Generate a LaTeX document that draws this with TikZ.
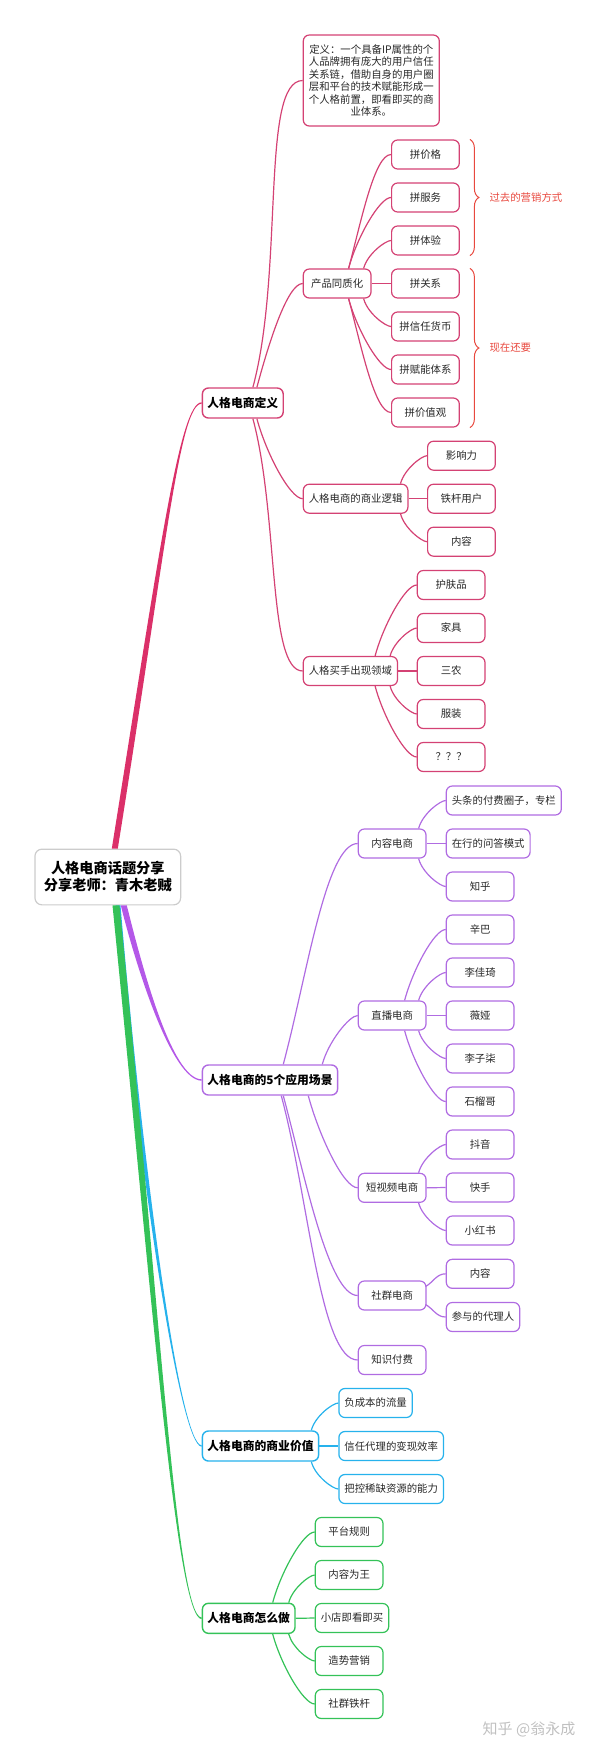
\documentclass[tikz,border=0pt]{standalone}
\usepackage{fontspec}
\setmainfont{Noto Sans CJK SC}
\usetikzlibrary{decorations.pathreplacing}
\definecolor{crim}{RGB}{219,48,105}
\definecolor{boxr}{RGB}{212,66,116}
\definecolor{purp}{RGB}{180,88,232}
\definecolor{boxp}{RGB}{176,108,226}
\definecolor{blu}{RGB}{38,178,236}
\definecolor{grn}{RGB}{52,194,88}
\definecolor{bracered}{RGB}{232,72,62}
\definecolor{rootline}{RGB}{204,204,204}
\definecolor{txt}{RGB}{40,40,40}
\definecolor{markgray}{RGB}{192,192,192}
\tikzstyle{rootbox}=[rectangle,draw=rootline,fill=white,line width=1.2pt,rounded corners=7pt,minimum width=145.7pt,minimum height=55.7pt,align=center,font=\fontsize{14.2}{17.3}\selectfont\bfseries]
\tikzstyle{topic}=[rectangle,fill=white,line width=1.4pt,rounded corners=6pt,minimum height=30pt,inner xsep=5pt,anchor=west,font=\fontsize{11.8}{14}\selectfont\bfseries]
\tikzstyle{leaf}=[rectangle,fill=white,line width=1.2pt,rounded corners=6pt,minimum height=29pt,minimum width=67.7pt,inner xsep=5.5pt,anchor=west,text=txt,font=\fontsize{10.4}{12.5}\selectfont]
\tikzstyle{defbox}=[leaf,align=center,minimum height=91pt,inner xsep=5.6pt]
\tikzstyle{link}=[line width=1.2pt]
\tikzstyle{goup}=[out=75,in=180,in looseness=0.35]
\tikzstyle{godown}=[out=-75,in=180,in looseness=0.35]
\tikzstyle{bracemark}=[draw=bracered,line width=1pt,decorate,decoration={brace,amplitude=9pt}]
\tikzstyle{bracetext}=[anchor=west,text=bracered,font=\fontsize{10.4}{12.5}\selectfont]

\begin{document}
\begin{tikzpicture}[x=1pt,y=1pt]
\useasboundingbox (0,0) rectangle (600,-1754);

% centre and main topics
\node[rootbox] (root) at (107.8,-877) {人格电商话题分享\\分享老师：青木老贼};
\node[topic,draw=boxr] (def) at (201.7,-403) {人格电商定义};
\node[topic,draw=boxp,minimum width=134pt] (scene) at (201.7,-1080) {人格电商的5个应用场景};
\node[topic,draw=blu] (value) at (201.7,-1446) {人格电商的商业价值};
\node[topic,draw=grn] (how) at (201.7,-1618.3) {人格电商怎么做};

% thick branches
\fill[blu] ([xshift=7.7]root.south) .. controls +(22,-260) and +(-22,0) .. ([yshift=-0.7]value.west)
  -- ([yshift=0.7]value.west) .. controls +(-22,0) and +(22,-260) .. ([xshift=12.7]root.south) -- cycle;
\fill[grn] ([xshift=4.7]root.south) .. controls +(40,-400) and +(-25,0) .. ([yshift=-0.8]how.west)
  -- ([yshift=0.8]how.west) .. controls +(-25,0) and +(40,-400) .. ([xshift=11.7]root.south) -- cycle;
\fill[purp] ([xshift=13]root.south) .. controls +(15,-60) and +(-30,0) .. ([yshift=-0.7]scene.west)
  -- ([yshift=0.7]scene.west) .. controls +(-30,0) and +(15,-60) .. ([xshift=19]root.south) -- cycle;
\fill[crim] ([xshift=4]root.north) .. controls +(48,300) and +(-22,0) .. ([yshift=0.7]def.west)
  -- ([yshift=-0.7]def.west) .. controls +(-22,0) and +(48,300) .. ([xshift=10]root.north) -- cycle;

% definition branch
\node[defbox,draw=boxr] (idea) at (302.7,-80.5) {定义：一个具备IP属性的个\\人品牌拥有庞大的用户信任\\关系链，借助自身的用户圈\\层和平台的技术赋能形成一\\个人格前置，即看即买的商\\业体系。};
\node[leaf,draw=boxr] (same) at (302.7,-283.5) {产品同质化};
\node[leaf,draw=boxr] (logic) at (302.7,-498.7) {人格电商的商业逻辑};
\node[leaf,draw=boxr] (buyer) at (302.7,-671) {人格买手出现领域};

\draw[link,boxr] ([xshift=-31]def.north east) to[goup] (idea.west);
\draw[link,boxr] ([xshift=-27]def.north east) to[goup] (same.west);
\draw[link,boxr] ([xshift=-27]def.south east) to[godown] (logic.west);
\draw[link,boxr] ([xshift=-31]def.south east) to[godown] (buyer.west);

\foreach \t [count=\i] in {拼价格,拼服务,拼体验,拼关系,拼信任货币,拼赋能体系,拼价值观} {
	\node[leaf,draw=boxr] (pin\i) at (391,{-154.5-43*(\i-1)}) {\t};
};
\foreach \i/\sh in {1/-23,2/-23,3/-8} {
	\draw[link,boxr] ([xshift=\sh]same.north east) to[goup] (pin\i.west);
};
\draw[link,boxr] (same.east) -- (pin4.west);
\foreach \i/\sh in {5/-8,6/-23,7/-23} {
	\draw[link,boxr] ([xshift=\sh]same.south east) to[godown] (pin\i.west);
};

\draw[bracemark] ([xshift=10]pin1.north east) -- ([xshift=10]pin3.south east);
\node[bracetext] (past) at (486,-197.7) {过去的营销方式};
\draw[bracemark] ([xshift=10]pin4.north east) -- ([xshift=10]pin7.south east);
\node[bracetext] (now) at (486,-348) {现在还要};

\foreach \t [count=\i] in {影响力,铁杆用户,内容} {
	\node[leaf,draw=boxr] (lg\i) at (427,{-455.7-43*(\i-1)}) {\t};
};
\draw[link,boxr] ([xshift=-8]logic.north east) to[goup] (lg1.west);
\draw[link,boxr] (logic.east) -- (lg2.west);
\draw[link,boxr] ([xshift=-8]logic.south east) to[godown] (lg3.west);

\foreach \t [count=\i] in {护肤品,家具,三农,服装,？？？} {
	\node[leaf,draw=boxr] (by\i) at (416.7,{-585-43*(\i-1)}) {\t};
};
\draw[link,boxr] ([xshift=-23]buyer.north east) to[goup] (by1.west);
\draw[link,boxr] ([xshift=-8]buyer.north east) to[goup] (by2.west);
\draw[link,boxr] (buyer.east) -- (by3.west);
\draw[link,boxr] ([xshift=-8]buyer.south east) to[godown] (by4.west);
\draw[link,boxr] ([xshift=-23]buyer.south east) to[godown] (by5.west);

% scenes branch
\node[leaf,draw=boxp] (cont) at (357.7,-843.5) {内容电商};
\node[leaf,draw=boxp] (live) at (357.7,-1015.5) {直播电商};
\node[leaf,draw=boxp] (short) at (357.7,-1187.8) {短视频电商};
\node[leaf,draw=boxp] (comm) at (357.7,-1295.5) {社群电商};
\node[leaf,draw=boxp] (paid) at (357.7,-1360) {知识付费};

\draw[link,boxp] ([xshift=-55]scene.north east) to[goup] (cont.west);
\draw[link,boxp] ([xshift=-16]scene.north east) to[goup] (live.west);
\draw[link,boxp] ([xshift=-30]scene.south east) to[godown] (short.west);
\draw[link,boxp] ([xshift=-55]scene.south east) to[godown] (comm.west);
\draw[link,boxp] ([xshift=-57]scene.south east) to[godown] (paid.west);

\foreach \t [count=\i] in {头条的付费圈子，专栏,在行的问答模式,知乎} {
	\node[leaf,draw=boxp] (ct\i) at (445.7,{-800.5-43*(\i-1)}) {\t};
};
\draw[link,boxp] ([xshift=-8]cont.north east) to[goup] (ct1.west);
\draw[link,boxp] (cont.east) -- (ct2.west);
\draw[link,boxp] ([xshift=-8]cont.south east) to[godown] (ct3.west);

\foreach \t [count=\i] in {辛巴,李佳琦,薇娅,李子柒,石榴哥} {
	\node[leaf,draw=boxp] (lv\i) at (445.7,{-929.5-43*(\i-1)}) {\t};
};
\draw[link,boxp] ([xshift=-22]live.north east) to[goup] (lv1.west);
\draw[link,boxp] ([xshift=-8]live.north east) to[goup] (lv2.west);
\draw[link,boxp] (live.east) -- (lv3.west);
\draw[link,boxp] ([xshift=-8]live.south east) to[godown] (lv4.west);
\draw[link,boxp] ([xshift=-22]live.south east) to[godown] (lv5.west);

\foreach \t [count=\i] in {抖音,快手,小红书} {
	\node[leaf,draw=boxp] (sv\i) at (445.7,{-1144.5-43*(\i-1)}) {\t};
};
\draw[link,boxp] ([xshift=-8]short.north east) to[goup] (sv1.west);
\draw[link,boxp] (short.east) -- (sv2.west);
\draw[link,boxp] ([xshift=-8]short.south east) to[godown] (sv3.west);

\node[leaf,draw=boxp] (cm1) at (445.7,-1273.8) {内容};
\node[leaf,draw=boxp] (cm2) at (445.7,-1317) {参与的代理人};
\draw[link,boxp] ([xshift=-1,yshift=9]comm.east) to[out=30,in=180] (cm1.west);
\draw[link,boxp] ([xshift=-1,yshift=-9]comm.east) to[out=-30,in=180] (cm2.west);

% value branch
\foreach \t [count=\i] in {负成本的流量,信任代理的变现效率,把控稀缺资源的能力} {
	\node[leaf,draw=blu] (vl\i) at (338.3,{-1403-43*(\i-1)}) {\t};
};
\draw[link,blu] ([xshift=-8]value.north east) to[goup] (vl1.west);
\draw[link,blu] (value.east) -- (vl2.west);
\draw[link,blu] ([xshift=-8]value.south east) to[godown] (vl3.west);

% how branch
\foreach \t [count=\i] in {平台规则,内容为王,小店即看即买,造势营销,社群铁杆} {
	\node[leaf,draw=grn] (hw\i) at (314.7,{-1532-43*(\i-1)}) {\t};
};
\draw[link,grn] ([xshift=-23]how.north east) to[goup] (hw1.west);
\draw[link,grn] ([xshift=-7]how.north east) to[goup] (hw2.west);
\draw[link,grn] (how.east) -- (hw3.west);
\draw[link,grn] ([xshift=-7]how.south east) to[godown] (hw4.west);
\draw[link,grn] ([xshift=-23]how.south east) to[godown] (hw5.west);

\node[text=markgray,font=\fontsize{15}{18}\selectfont] (mark) at (529,-1729) {知乎 @翁永成};
\end{tikzpicture}
\end{document}
